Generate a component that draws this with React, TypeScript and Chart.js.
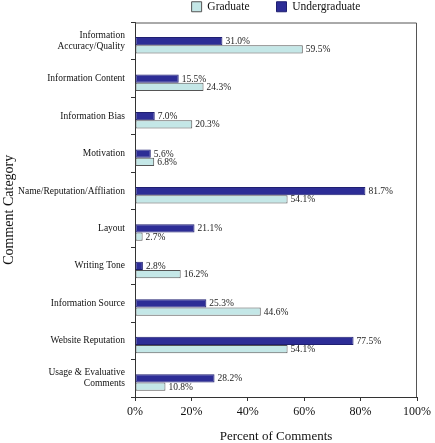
import React, { useEffect, useRef } from "react";
import { Chart, registerables } from "chart.js";

Chart.register(...registerables);

const categories: (string | string[])[] = [
  ["Information", "Accuracy/Quality"],
  "Information Content",
  "Information Bias",
  "Motivation",
  "Name/Reputation/Affliation",
  "Layout",
  "Writing Tone",
  "Information Source",
  "Website Reputation",
  ["Usage & Evaluative", "Comments"],
];

const undergraduate = [31.0, 15.5, 7.0, 5.6, 81.7, 21.1, 2.8, 25.3, 77.5, 28.2];
const graduate = [59.5, 24.3, 20.3, 6.8, 54.1, 2.7, 16.2, 44.6, 54.1, 10.8];
const spacer = [null, null, null, null, null, null, null, null, null, null];
const xTicks = [0, 20, 40, 60, 80, 100];

const SERIF = "'Liberation Serif', 'Times New Roman', serif";

const valueLabels = {
  id: "valueLabels",
  afterDatasetsDraw(chart: any) {
    const { ctx } = chart;
    ctx.save();
    ctx.font = `9.5px ${SERIF}`;
    ctx.fillStyle = "#222";
    ctx.textAlign = "left";
    ctx.textBaseline = "middle";
    chart.data.datasets.forEach((ds: any, di: number) => {
      if (!ds.label) return;
      const meta = chart.getDatasetMeta(di);
      meta.data.forEach((el: any, i: number) => {
        const v = ds.data[i];
        if (v == null) return;
        ctx.fillText(v.toFixed(1) + "%", el.x + 3, el.y + 0.5);
      });
    });
    ctx.restore();
  },
};

const frame = {
  id: "frame",
  afterDraw(chart: any) {
    const { ctx, chartArea: a } = chart;
    ctx.save();
    ctx.strokeStyle = "#555";
    ctx.lineWidth = 1;
    ctx.beginPath();
    ctx.moveTo(a.left, a.top + 0.5);
    ctx.lineTo(a.right - 0.5, a.top + 0.5);
    ctx.lineTo(a.right - 0.5, a.bottom);
    ctx.stroke();
    ctx.restore();
  },
};

export default function App() {
  const ref = useRef<HTMLCanvasElement>(null);
  useEffect(() => {
    if (!ref.current) return;
    const chart = new Chart(ref.current, {
      type: "bar",
      data: {
        labels: categories,
        datasets: [
          { label: "", data: spacer as any, backgroundColor: "transparent" },
          {
            label: "Undergraduate",
            data: undergraduate,
            backgroundColor: "#2d2d96",
            borderColor: "#1f1f70",
            borderWidth: 1,
            borderSkipped: false,
          },
          {
            label: "Graduate",
            data: graduate,
            backgroundColor: "#c4e7e7",
            borderColor: "#555",
            borderWidth: 1,
            borderSkipped: false,
          },
        ],
      },
      options: {
        indexAxis: "y",
        responsive: false,
        animation: false,
        layout: { padding: { top: -26, right: 14, bottom: 0, left: 0 } },
        datasets: { bar: { categoryPercentage: 0.66, barPercentage: 1 } },
        plugins: {
          legend: {
            position: "top",
            fullSize: false,
            reverse: true,
            labels: {
              filter: (item: any) => !!item.text,
              boxWidth: 10,
              boxHeight: 10,
              padding: 27,
              color: "#111",
              font: { family: SERIF, size: 11.5 },
            },
          },
          tooltip: { enabled: false },
        },
        scales: {
          x: {
            min: 0,
            max: 100,
            afterBuildTicks: (scale: any) => {
              scale.ticks = xTicks.map((v) => ({ value: v }));
            },
            afterFit: (scale: any) => {
              scale.height = 46;
            },
            ticks: {
              callback: (v: any) => v + "%",
              color: "#111",
              font: { family: SERIF, size: 12 },
              padding: 4,
            },
            grid: { drawOnChartArea: false, tickLength: 4, color: "#333" },
            border: { color: "#333" },
            title: {
              display: true,
              text: "Percent of Comments",
              color: "#111",
              font: { family: SERIF, size: 13, lineHeight: 1 },
              padding: { top: 4, bottom: 0 },
            },
          },
          y: {
            afterFit: (scale: any) => {
              scale.width = 135;
            },
            ticks: {
              color: "#111",
              font: { family: SERIF, size: 9.5 },
              padding: 6,
            },
            grid: { drawOnChartArea: false, tickLength: 4, color: "#333", offset: true },
            border: { color: "#333" },
            title: {
              display: true,
              text: "Comment Category",
              color: "#111",
              font: { family: SERIF, size: 14, lineHeight: 1 },
              padding: { top: 2, bottom: 0 },
            },
          },
        },
      },
      plugins: [valueLabels, frame],
    });
    return () => chart.destroy();
  }, []);
  return (
    <div style={{ position: "fixed", left: 0, top: 0, width: 435, height: 443, background: "#fff" }}>
      <canvas ref={ref} width={435} height={443} style={{ display: "block" }} />
    </div>
  );
}
